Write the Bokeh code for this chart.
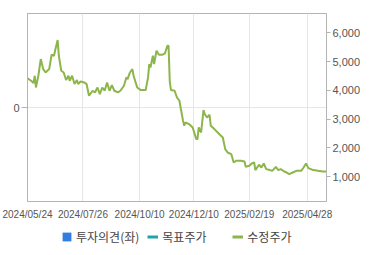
from bokeh.plotting import figure
from bokeh.layouts import column
from bokeh.models import Range1d, LinearAxis, FixedTicker, Legend, LegendItem, NumeralTickFormatter, ColumnDataSource
from bokeh.embed import file_html
from bokeh.resources import INLINE

# trading-day index and adjusted price (수정주가)
day_idx = [0, 3, 5, 6, 7, 9, 11, 13, 15, 18, 20, 22, 23, 25, 26, 28, 30, 32, 34, 35,
           37, 39, 41, 42, 44, 47, 49, 51, 54, 56, 58, 60, 62, 64, 66, 68, 70, 72, 75, 77,
           80, 82, 83, 85, 87, 88, 91, 94, 98, 100, 101, 102, 104, 105, 107, 109, 112, 114, 116, 117,
           118, 119, 122, 124, 126, 127, 129, 130, 131, 134, 137, 140, 141, 142, 144, 146, 147, 149, 151, 152,
           155, 159, 162, 164, 166, 169, 171, 173, 177, 180, 181, 184, 186, 188, 189, 192, 194, 196, 198, 201,
           203, 206, 208, 210, 213, 215, 217, 220, 223, 227, 229, 231, 233, 237, 241, 245, 248]
price = [4413, 4333, 4253, 4507, 4100, 4507, 5087, 4739, 4621, 4739, 5236, 5201, 5399, 5746, 5201, 4680, 4621, 4357, 4507, 4333,
         4507, 4219, 4357, 4219, 4309, 4274, 4219, 3812, 3986, 3927, 4100, 3871, 4100, 3986, 4274, 3986, 4184, 3986, 3927, 3986,
         4160, 4448, 4392, 4621, 4739, 4507, 4100, 4010, 4010, 4448, 4913, 4795, 5201, 4913, 5375, 5236, 5236, 5281, 5548, 5548,
         4300, 4010, 3986, 3753, 3639, 3406, 2944, 2771, 2885, 2830, 2712, 2309, 2309, 2712, 2538, 3316, 3177, 3059, 3153, 2771,
         2656, 2483, 2364, 1962, 1844, 1788, 1497, 1556, 1556, 1531, 1347, 1382, 1462, 1497, 1233, 1417, 1323, 1462, 1267, 1233,
         1208, 1347, 1233, 1267, 1184, 1149, 1094, 1149, 1208, 1208, 1323, 1462, 1302, 1233, 1208, 1184, 1184]

tick_idx = [0, 46, 93, 138, 184, 232]
tick_labels = ["2024/05/24", "2024/07/26", "2024/10/10", "2024/12/10", "2025/02/19", "2025/04/28"]
price_ticks = [1000, 2000, 3000, 4000, 5000, 6000]
legend_labels = ["투자의견(좌)", "목표주가", "수정주가"]

GRAY = "#b4b4b4"
GRID = "#e6e6e6"
TXT = "#555555"
GREEN = "#8cb54b"

p = figure(width=370, height=225, output_backend="svg", toolbar_location=None,
           x_range=Range1d(0, 248), y_range=Range1d(-1, 1),
           min_border_left=27, min_border_right=44, min_border_top=13, min_border_bottom=24)
p.extra_y_ranges = {"price": Range1d(143, 6667)}
p.outline_line_color = GRAY
p.background_fill_color = "white"
p.border_fill_color = "white"

# x axis
xa = p.xaxis[0]
xa.ticker = FixedTicker(ticks=tick_idx)
xa.major_label_overrides = {t: l for t, l in zip(tick_idx, tick_labels)}
xa.major_tick_out = 0
xa.major_tick_in = 0
xa.minor_tick_out = 0
xa.minor_tick_in = 0
xa.axis_line_color = GRAY
xa.major_label_standoff = 7
xa.major_label_text_font = "Liberation Sans"
xa.major_label_text_font_size = "10px"
xa.major_label_text_color = TXT

# left axis (투자의견)
ya = p.yaxis[0]
ya.ticker = FixedTicker(ticks=[0])
ya.major_tick_out = 6
ya.major_tick_in = 0
ya.minor_tick_out = 0
ya.minor_tick_in = 0
ya.major_tick_line_color = GRAY
ya.axis_line_color = GRAY
ya.major_label_standoff = 2
ya.major_label_text_font = "Liberation Sans"
ya.major_label_text_font_size = "11px"
ya.major_label_text_color = TXT

p.xgrid.grid_line_color = GRID
p.ygrid.grid_line_color = GRID

# right axis (price)
ra = LinearAxis(y_range_name="price", ticker=FixedTicker(ticks=price_ticks),
                formatter=NumeralTickFormatter(format="0,0"))
ra.major_tick_out = 4
ra.major_tick_in = 0
ra.minor_tick_out = 0
ra.minor_tick_in = 0
ra.major_tick_line_color = GRAY
ra.axis_line_color = GRAY
ra.major_label_standoff = 2
ra.major_label_text_font = "Liberation Sans"
ra.major_label_text_font_size = "11px"
ra.major_label_text_color = TXT
p.add_layout(ra, "right")

src = ColumnDataSource(dict(x=day_idx, y=price))
p.line("x", "y", source=src, y_range_name="price", line_color=GREEN, line_width=2)

# legend strip as a second small figure (its renderers sit outside the visible range)
lg = figure(width=370, height=30, output_backend="svg", toolbar_location=None,
            x_axis_location=None, y_axis_location=None,
            x_range=Range1d(0, 1), y_range=Range1d(0, 1),
            min_border_left=0, min_border_right=0, min_border_top=0, min_border_bottom=0)
lg.outline_line_color = None
lg.xgrid.visible = False
lg.ygrid.visible = False
lg.border_fill_color = "white"

off = ColumnDataSource(dict(x=[-5, -4], y=[-5, -4], top=[-4, -4], bottom=[-5, -5]))
r_op = lg.vbar(x="x", top="top", bottom="bottom", width=0.5, source=off,
               fill_color="#2f7ee0", line_color=None)
r_tp = lg.line("x", "y", source=off, line_color="#22a3ab", line_width=3)
r_pr = lg.line("x", "y", source=off, line_color=GREEN, line_width=3)

legend = Legend(items=[LegendItem(label=legend_labels[0], renderers=[r_op]),
                       LegendItem(label=legend_labels[1], renderers=[r_tp]),
                       LegendItem(label=legend_labels[2], renderers=[r_pr])],
                orientation="horizontal", location=(34, 10), margin=0, padding=3,
                glyph_width=11, glyph_height=11, label_height=13, label_width=62,
                label_standoff=4, spacing=8,
                label_text_font="Noto Sans CJK KR", label_text_font_size="12px",
                label_text_color="#444444", border_line_color=None,
                background_fill_alpha=0)
lg.add_layout(legend, "center")

layout = column(p, lg, spacing=0)
open("out.html", "w").write(file_html(layout, INLINE))
